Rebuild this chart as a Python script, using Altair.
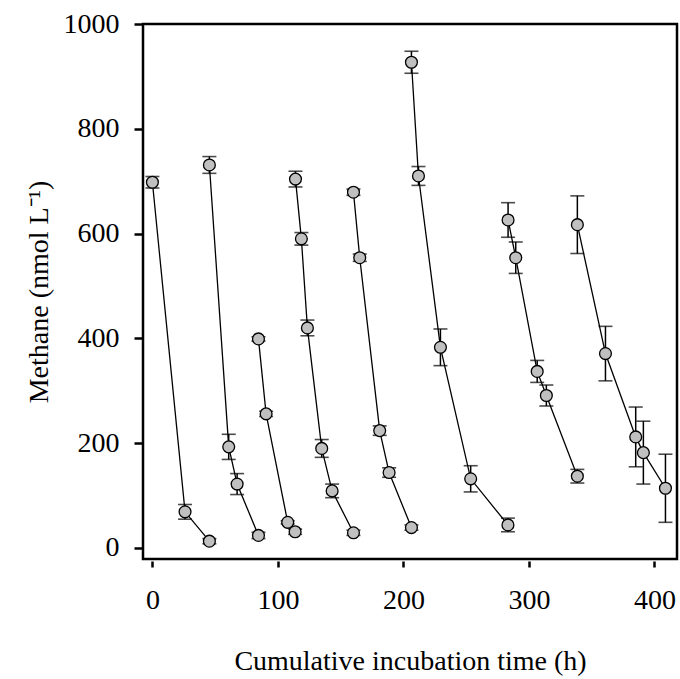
import altair as alt
import pandas as pd

# ---- data ----
series = [1]*3 + [2]*4 + [3]*4 + [4]*6 + [5]*5 + [6]*5 + [7]*5 + [8]*5
times = [0, 26, 45.4,
         45.4, 60.8, 67.5, 84.5,
         84.5, 90.6, 107.8, 113.7,
         114, 118.7, 123.5, 134.9, 143.2, 160.2,
         160.2, 165.2, 181.1, 188.6, 206.4,
         206.4, 212, 229.5, 253.6, 283.3,
         283.4, 289.5, 306.6, 313.9, 338.6,
         338.6, 361, 385.1, 391.2, 408.8]
methane = [698, 69, 13,
           731, 193, 122, 24,
           399, 256, 49, 31,
           704, 590, 420, 190, 109, 29,
           679, 554, 224, 144, 39,
           927, 710, 383, 132, 44,
           626, 554, 337, 291, 137,
           617, 371, 212, 182, 114]
errors = [11, 14, 5,
          16, 24, 20, 6,
          4, 5, 3, 5,
          15, 12, 15, 17, 13, 5,
          6, 7, 9, 9, 5,
          21, 18, 35, 25, 13,
          33, 30, 21, 20, 13,
          55, 52, 57, 60, 65]
x_ticks = [0, 100, 200, 300, 400]
y_ticks = [0, 200, 400, 600, 800, 1000]

df = pd.DataFrame({"series": series, "t": times, "v": methane, "e": errors})
df["lo"] = df["v"] - df["e"]
df["hi"] = df["v"] + df["e"]

FONT = "Liberation Serif"

x_enc = alt.X("t:Q", scale=alt.Scale(domain=[-7.5, 418], nice=False, zero=False),
              axis=alt.Axis(title="Cumulative incubation time (h)", values=x_ticks, format="d",
                            offset=2, tickSize=6, labelPadding=19, titlePadding=33))
y_enc = alt.Y("v:Q", scale=alt.Scale(domain=[-21, 1000], nice=False, zero=False),
              axis=alt.Axis(title="Methane (nmol L\u207b\u00b9)", values=y_ticks, format="d",
                            offset=1, tickSize=8, labelPadding=15, titlePadding=10))

base = alt.Chart(df)

lines = base.mark_line(color="black", strokeWidth=1.3).encode(
    x=x_enc, y=y_enc, detail="series:N", order="t:Q")

rules = base.mark_rule(color="black", strokeWidth=1.5).encode(
    x=alt.X("t:Q"), y=alt.Y("lo:Q"), y2="hi:Q")

caps_hi = base.mark_tick(color="black", orient="horizontal", size=14, thickness=1.6).encode(
    x=alt.X("t:Q"), y=alt.Y("hi:Q"))
caps_lo = base.mark_tick(color="black", orient="horizontal", size=14, thickness=1.6).encode(
    x=alt.X("t:Q"), y=alt.Y("lo:Q"))

points = base.mark_circle(color="#c0c0c0", stroke="black", strokeWidth=1.3,
                          size=140, opacity=1).encode(x=alt.X("t:Q"), y=alt.Y("v:Q"))

chart = alt.layer(lines, rules, caps_hi, caps_lo, points).properties(
    width=534, height=535,
    padding={"left": 143, "top": 24, "right": 3, "bottom": 120},
    autosize=alt.AutoSizeParams(type="none"),
).configure(
    background="white"
).configure_view(
    stroke="black", strokeWidth=2.5
).configure_axis(
    domain=False, grid=False,
    tickColor="black", tickWidth=2.5,
    labelFont=FONT, labelFontSize=28, labelColor="black",
    titleFont=FONT, titleFontSize=28, titleColor="black", titleFontWeight="normal",
)

chart.save("out.html", embed_options={"renderer": "svg", "actions": False})
